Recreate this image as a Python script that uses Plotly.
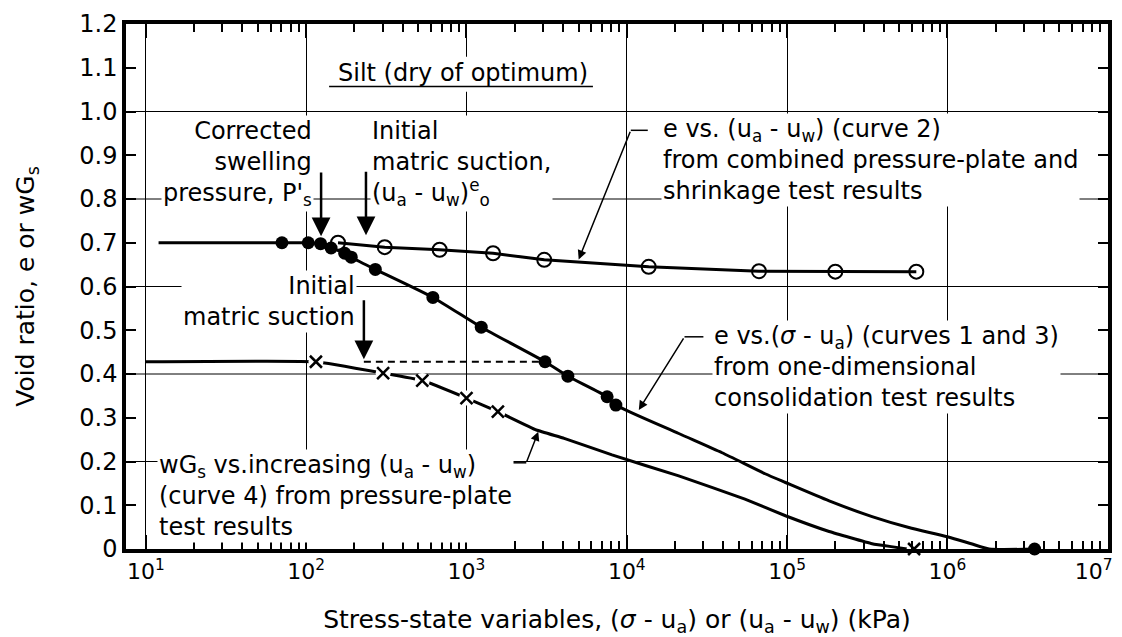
import plotly.graph_objects as go

# Curves 1 and 3: void ratio vs net normal stress, one-dimensional consolidation (filled circles)
cons_x = [70.6, 103, 123, 143, 174, 191, 270, 617, 1236, 3090, 4290, 7540, 8550, 3.5e6]
cons_e = [0.700, 0.700, 0.698, 0.688, 0.676, 0.667, 0.639, 0.575, 0.507, 0.428, 0.395, 0.348, 0.329, 0.0]
cons_line_x = [12, 70.6, 103, 123, 143, 174, 191, 270, 617, 1236, 3090, 4290, 7540, 8550,
               21100, 39300, 72900, 97700, 183000, 339000, 575000, 1.0e6, 1.41e6, 1.82e6, 3.5e6]
cons_line_e = [0.700, 0.700, 0.700, 0.698, 0.688, 0.676, 0.667, 0.639, 0.575, 0.507, 0.428, 0.395, 0.348, 0.329,
               0.264, 0.220, 0.172, 0.152, 0.110, 0.074, 0.049, 0.028, 0.012, 0.0, 0.0]

# Curve 2: void ratio vs matric suction, pressure-plate + shrinkage (open circles)
pp_x = [158, 309, 680, 1465, 3055, 13700, 66800, 2.0e5, 6.4e5]
pp_e = [0.700, 0.690, 0.684, 0.676, 0.661, 0.645, 0.635, 0.634, 0.634]

# Curve 4: wGs vs increasing matric suction, pressure-plate (crosses)
wgs_x = [115, 302, 530, 1000, 1570, 6.2e5]
wgs_v = [0.428, 0.402, 0.385, 0.345, 0.314, 0.0]
wgs_line_x = [10, 115, 302, 530, 1000, 1570, 2730, 4070, 8090, 21100, 54600, 97700,
              183000, 339000, 575000, 6.2e5]
wgs_line_v = [0.428, 0.428, 0.402, 0.385, 0.345, 0.314, 0.272, 0.253, 0.215, 0.167, 0.114, 0.076,
              0.040, 0.012, 0.0, 0.0]

# Initial matric suction level and the consolidation point it meets
init_suction_x = [229, 3090]
init_suction_v = [0.428, 0.428]

x_tick_vals = [10, 100, 1e3, 1e4, 1e5, 1e6, 1e7]
x_tick_text = ["10<sup>1</sup>", "10<sup>2</sup>", "10<sup>3</sup>", "10<sup>4</sup>",
               "10<sup>5</sup>", "10<sup>6</sup>", "10<sup>7</sup>\u00a0\u00a0\u00a0\u00a0"]
y_tick_vals = [0, 0.1, 0.2, 0.3, 0.4, 0.5, 0.6, 0.7, 0.8, 0.9, 1.0, 1.1, 1.2]
y_tick_text = ["0", "0.1", "0.2", "0.3", "0.4", "0.5", "0.6", "0.7", "0.8", "0.9", "1.0", "1.1", "1.2"]
h_grid = [0.2, 0.4, 0.6, 0.8, 1.0]
minor_vals = [k * 10 ** d for d in range(1, 7) for k in range(2, 10)]

FONT = "DejaVu Sans"
INK = "black"
X_RANGE = [0.876, 7.002]

fig = go.Figure()

# curve lines
fig.add_trace(go.Scatter(x=cons_line_x, y=cons_line_e, mode="lines",
                         line=dict(color=INK, width=3, shape="spline", smoothing=0.6),
                         hoverinfo="skip", showlegend=False, cliponaxis=False))
fig.add_trace(go.Scatter(x=pp_x, y=pp_e, mode="lines", xaxis="x2",
                         line=dict(color=INK, width=3), hoverinfo="skip", showlegend=False))
fig.add_trace(go.Scatter(x=wgs_line_x, y=wgs_line_v, mode="lines",
                         line=dict(color=INK, width=3, shape="spline", smoothing=0.3),
                         hoverinfo="skip", showlegend=False, cliponaxis=False))
fig.add_trace(go.Scatter(x=init_suction_x, y=init_suction_v, mode="lines",
                         line=dict(color=INK, width=2, dash="7px,5px"), hoverinfo="skip",
                         showlegend=False))

# markers
fig.add_trace(go.Scatter(x=wgs_x, y=wgs_v, mode="markers",
                         marker=dict(symbol="circle", size=15, color="white"),
                         hoverinfo="skip", showlegend=False, cliponaxis=False))
fig.add_trace(go.Scatter(x=wgs_x, y=wgs_v, mode="markers",
                         marker=dict(symbol="x-thin", size=12, line=dict(color=INK, width=2.5)),
                         name="curve 4", showlegend=False, cliponaxis=False))
fig.add_trace(go.Scatter(x=pp_x, y=pp_e, mode="markers",
                         marker=dict(symbol="circle", size=14, color="white",
                                     line=dict(color=INK, width=2)),
                         name="curve 2", showlegend=False))
fig.add_trace(go.Scatter(x=cons_x, y=cons_e, mode="markers",
                         marker=dict(symbol="circle", size=13, color=INK),
                         name="curves 1 and 3", showlegend=False, cliponaxis=False))

shapes = []
for g in h_grid:
    shapes.append(dict(type="line", xref="paper", yref="y", x0=0, x1=1, y0=g, y1=g,
                       line=dict(color=INK, width=1), layer="below"))
# clear patch behind the soil label so grid lines stop at it
shapes.append(dict(type="rect", xref="x", yref="y", x0=130, x1=6300, y0=1.045, y1=1.125,
                   fillcolor="white", line=dict(width=0), layer="between"))
# underline of the soil label
shapes.append(dict(type="line", xref="x", yref="y", x0=139, x1=6150, y0=1.057, y1=1.057,
                   line=dict(color=INK, width=1.5), layer="above"))
# short horizontal stubs of the leader lines
shapes.append(dict(type="line", xref="x", yref="y", x0=10 ** 4.025, x1=10 ** 4.131, y0=0.957, y1=0.957,
                   line=dict(color=INK, width=1.5)))
shapes.append(dict(type="line", xref="x", yref="y", x0=10 ** 4.36, x1=10 ** 4.478, y0=0.485, y1=0.485,
                   line=dict(color=INK, width=1.5)))
shapes.append(dict(type="line", xref="x", yref="y", x0=10 ** 3.28, x1=10 ** 3.373, y0=0.197, y1=0.197,
                   line=dict(color=INK, width=1.5)))

TF = dict(family=FONT, size=24, color=INK)


def label(text, x, y, xanchor="left", align="left", bg="white"):
    return dict(text=text, x=x, y=y, xref="x", yref="y", xanchor=xanchor, yanchor="middle",
                align=align, showarrow=False, font=TF, bgcolor=bg, borderpad=1)


def arrow(x, y, ax, ay, size=1.5, width=2.5):
    return dict(text="", x=x, y=y, ax=ax, ay=ay, xref="x", yref="y", axref="x", ayref="y",
                showarrow=True, arrowhead=2, arrowsize=size, arrowwidth=width, arrowcolor=INK)


annotations = [
    label("Silt (dry of optimum)", 2.187, 1.087, bg="rgba(0,0,0,0)"),
    label("Corrected<br>swelling<br>pressure, P'<sub>s</sub>", 2.05, 0.882, "right", "right"),
    label("Initial<br>matric suction,<br>(u<sub>a</sub> - u<sub>w</sub>)<sup>e</sup><sub>o</sub>",
          2.398, 0.882),
    label("Initial<br>matric suction", 2.317, 0.565, "right", "right"),
    label("e vs. (u<sub>a</sub> - u<sub>w</sub>) (curve 2)<br>from combined pressure-plate and"
          "<br>shrinkage test results", 4.211, 0.889),
    label("e vs.(<i>σ</i> - u<sub>a</sub>) (curves 1 and 3)<br>from one-dimensional"
          "<br>consolidation test results", 4.534, 0.415),
    label("wG<sub>s</sub> vs.increasing (u<sub>a</sub> - u<sub>w</sub>)<br>(curve 4) from pressure-plate"
          "<br>test results", 1.069, 0.122),
    arrow(2.093, 0.715, 2.093, 0.864),
    arrow(2.373, 0.717, 2.373, 0.866),
    arrow(2.36, 0.434, 2.36, 0.572),
    arrow(3.70, 0.662, 4.025, 0.957, 1.2, 1.5),
    arrow(4.075, 0.318, 4.36, 0.485, 1.2, 1.5),
    arrow(3.448, 0.268, 3.373, 0.197, 1.2, 1.5),
]

minor_ticks = dict(tickmode="array", tickvals=minor_vals, ticks="inside", ticklen=8,
                   tickwidth=1.5, tickcolor=INK, showgrid=False)

fig.update_layout(
    width=1122, height=637,
    margin=dict(l=126, r=10, t=20, b=88),
    paper_bgcolor="white", plot_bgcolor="white",
    font=dict(family=FONT, color=INK),
    shapes=shapes, annotations=annotations,
    xaxis=dict(
        type="log", range=X_RANGE, automargin=False,
        tickmode="array", tickvals=x_tick_vals, ticktext=x_tick_text,
        tickfont=dict(family=FONT, size=22, color=INK), ticklabeloverflow="allow",
        ticks="inside", ticklen=14, tickwidth=1.5, tickcolor=INK,
        minor=minor_ticks,
        showline=True, linewidth=3.5, linecolor=INK, mirror=True,
        showgrid=True, gridcolor=INK, gridwidth=1, zeroline=False,
        title=dict(text="Stress-state variables, (<i>σ</i> - u<sub>a</sub>) or (u<sub>a</sub> - u<sub>w</sub>) (kPa)",
                   font=dict(family=FONT, size=25, color=INK), standoff=30),
    ),
    xaxis2=dict(
        type="log", range=X_RANGE, overlaying="x", side="top", matches="x", automargin=False,
        tickmode="array", tickvals=x_tick_vals, showticklabels=False,
        ticks="inside", ticklen=14, tickwidth=1.5, tickcolor=INK,
        minor=minor_ticks, showline=False, showgrid=False, zeroline=False,
    ),
    yaxis=dict(
        range=[0, 1.2],
        tickmode="array", tickvals=y_tick_vals, ticktext=y_tick_text,
        tickfont=dict(family=FONT, size=24, color=INK),
        ticks="inside", ticklen=10, tickwidth=2, tickcolor=INK,
        showline=True, linewidth=3.5, linecolor=INK, mirror="ticks",
        showgrid=False, zeroline=False,
        title=dict(text="Void ratio, e or wG<sub>s</sub>", font=dict(family=FONT, size=25, color=INK),
                   standoff=39),
    ),
)

fig.write_html("out.html")
